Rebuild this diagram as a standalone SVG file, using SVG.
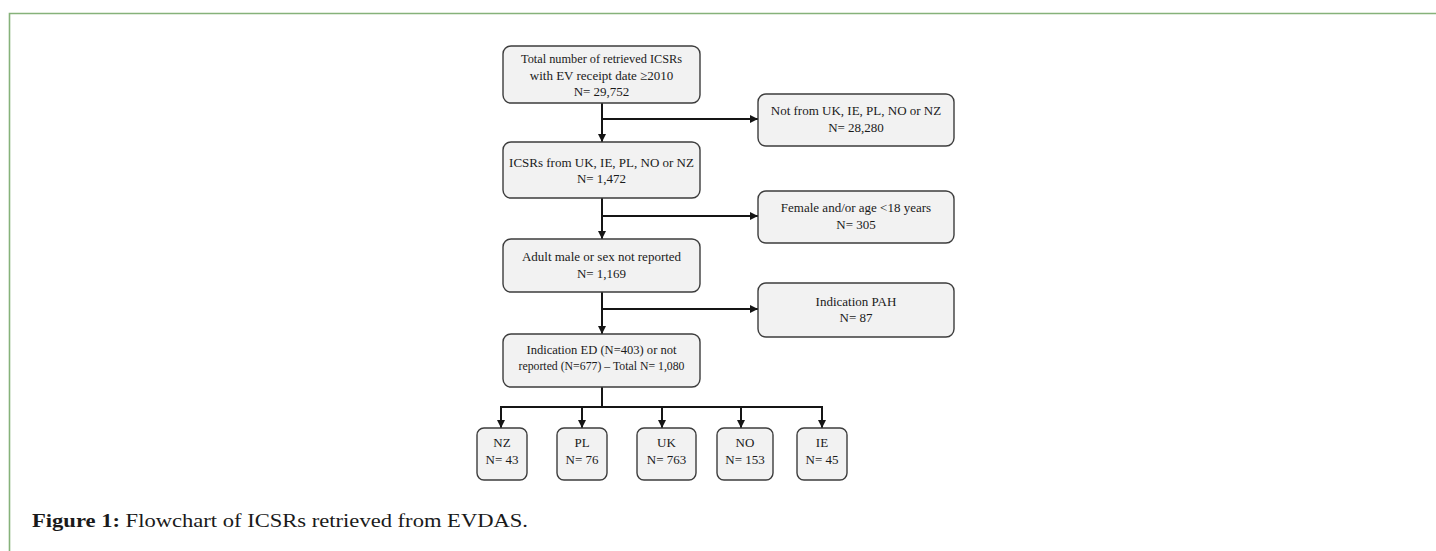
<svg xmlns="http://www.w3.org/2000/svg" width="1436" height="551" viewBox="0 0 1436 551">
<style>
.box{fill:#f2f2f2;stroke:#3d3d3d;stroke-width:1.4}
.t{font-family:"Liberation Serif","Times New Roman",serif;font-size:13px;fill:#1a1a1a;text-anchor:middle}
.ln{stroke:#151515;stroke-width:2;fill:none}
.cap{font-family:"Liberation Serif","Times New Roman",serif;font-size:18px;fill:#1a1a1a}
</style>
<defs>
<marker id="ah" viewBox="0 0 10 10" refX="10" refY="5" markerWidth="4" markerHeight="4" markerUnits="strokeWidth" orient="auto">
<path d="M0,0 L10,5 L0,10 z" fill="#151515"/>
</marker>
</defs>
<rect width="1436" height="551" fill="#ffffff"/>
<path d="M9.5,551 V13.5 H1436" fill="none" stroke="#86b27a" stroke-width="1.6"/>

<g id="connectors">
<path class="ln" d="M602,103 V142" marker-end="url(#ah)"/>
<path class="ln" d="M602,119 H758" marker-end="url(#ah)"/>
<path class="ln" d="M602,198 V239" marker-end="url(#ah)"/>
<path class="ln" d="M602,216 H758" marker-end="url(#ah)"/>
<path class="ln" d="M602,292 V334" marker-end="url(#ah)"/>
<path class="ln" d="M602,309 H758" marker-end="url(#ah)"/>
<path class="ln" d="M602,387 V407"/>
<path class="ln" d="M501,407 H822"/>
<path class="ln" d="M501,406 V428" marker-end="url(#ah)"/>
<path class="ln" d="M582,406 V428" marker-end="url(#ah)"/>
<path class="ln" d="M662,406 V428" marker-end="url(#ah)"/>
<path class="ln" d="M741,406 V428" marker-end="url(#ah)"/>
<path class="ln" d="M822,406 V428" marker-end="url(#ah)"/>
</g>

<g id="n-total">
<rect class="box" x="503" y="46" width="197" height="57" rx="8"/>
<text class="t" x="601.5" y="63" textLength="161" lengthAdjust="spacingAndGlyphs">Total number of retrieved ICSRs</text>
<text class="t" x="601.5" y="79.5">with EV receipt date ≥2010</text>
<text class="t" x="601.5" y="96">N= 29,752</text>
</g>

<g id="n-notfrom">
<rect class="box" x="758" y="94" width="196" height="52" rx="8"/>
<text class="t" x="856" y="114.5">Not from UK, IE, PL, NO or NZ</text>
<text class="t" x="856" y="131.5">N= 28,280</text>
</g>

<g id="n-from">
<rect class="box" x="503" y="142" width="197" height="56" rx="8"/>
<text class="t" x="601.5" y="166.5">ICSRs from UK, IE, PL, NO or NZ</text>
<text class="t" x="601.5" y="183">N= 1,472</text>
</g>

<g id="n-female">
<rect class="box" x="758" y="191" width="196" height="52" rx="8"/>
<text class="t" x="856" y="211.5">Female and/or age &lt;18 years</text>
<text class="t" x="856" y="228.5">N= 305</text>
</g>

<g id="n-adult">
<rect class="box" x="503" y="239" width="197" height="53" rx="8"/>
<text class="t" x="601.5" y="260.5">Adult male or sex not reported</text>
<text class="t" x="601.5" y="277.5">N= 1,169</text>
</g>

<g id="n-pah">
<rect class="box" x="758" y="283" width="196" height="54" rx="8"/>
<text class="t" x="856" y="305.5">Indication PAH</text>
<text class="t" x="856" y="321.5">N= 87</text>
</g>

<g id="n-ed">
<rect class="box" x="503" y="334" width="197" height="53" rx="8"/>
<text class="t" x="601.5" y="353.5" textLength="150" lengthAdjust="spacingAndGlyphs">Indication ED (N=403) or not</text>
<text class="t" x="601.5" y="369.5" textLength="166" lengthAdjust="spacingAndGlyphs">reported (N=677) – Total N= 1,080</text>
</g>

<g id="n-nz">
<rect class="box" x="477" y="428" width="50" height="52" rx="7"/>
<text class="t" x="502" y="446.5">NZ</text>
<text class="t" x="502" y="463.5">N= 43</text>
</g>
<g id="n-pl">
<rect class="box" x="557" y="428" width="50" height="52" rx="7"/>
<text class="t" x="582" y="446.5">PL</text>
<text class="t" x="582" y="463.5">N= 76</text>
</g>
<g id="n-uk">
<rect class="box" x="637" y="428" width="59" height="52" rx="7"/>
<text class="t" x="666.5" y="446.5">UK</text>
<text class="t" x="666.5" y="463.5">N= 763</text>
</g>
<g id="n-no">
<rect class="box" x="717" y="428" width="56" height="52" rx="7"/>
<text class="t" x="745" y="446.5">NO</text>
<text class="t" x="745" y="463.5">N= 153</text>
</g>
<g id="n-ie">
<rect class="box" x="797" y="428" width="50" height="52" rx="7"/>
<text class="t" x="822" y="446.5">IE</text>
<text class="t" x="822" y="463.5">N= 45</text>
</g>

<text class="cap" x="32" y="527" textLength="496" lengthAdjust="spacingAndGlyphs"><tspan font-weight="bold">Figure 1:</tspan> Flowchart of ICSRs retrieved from EVDAS.</text>
</svg>
